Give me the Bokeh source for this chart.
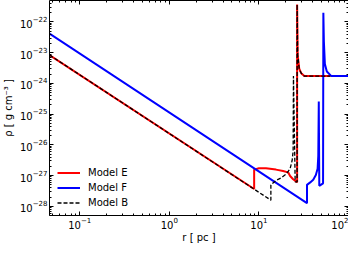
from bokeh.plotting import figure
from bokeh.models import (LogAxis, FixedTicker, LogTickFormatter, Legend, LegendItem,
                          CustomJSTickFormatter, Range1d)
from bokeh.embed import file_html
from bokeh.resources import INLINE

# ---------------- data ----------------
# Model E (red)
e_r = [0.046, 8.85, 8.85, 10.0, 12.0, 15.5, 18.6, 21.2, 22.3, 24.1, 26.4, 26.7, 26.7,
       27.1, 28.2, 29.7, 32.1, 62.8]
e_rho = [8.4e-24, 3.65e-28, 1.56e-27, 1.73e-27, 1.73e-27, 1.56e-27, 1.41e-27, 1.27e-27,
         9.7e-28, 7.6e-28, 6.2e-28, 6.2e-28, 3.7e-22,
         8.4e-24, 3.0e-24, 2.13e-24, 1.73e-24, 1.73e-24]

# Model F (blue)
f_r = [0.046, 34.4, 34.4, 37.4, 40.4, 43.2, 45.2, 46.0, 46.6, 47.2, 52.0, 52.4, 53.1,
       54.5, 57.3, 64.4, 100.0]
f_rho = [4.18e-23, 1.26e-28, 4.97e-28, 5.97e-28, 7.3e-28, 1.04e-27, 1.67e-27, 4.4e-27,
         2.58e-25, 4.63e-28, 5.57e-28, 1.99e-22, 2.36e-23,
         4.24e-24, 2.44e-24, 1.73e-24, 1.73e-24]

# Model B (black dashed)
b_r = [0.046, 13.6, 13.6, 15.5, 17.7, 20.1, 22.3, 23.5, 24.1, 24.3, 25.4, 26.7, 26.7,
       27.1, 28.2, 29.7, 32.1, 62.8]
b_rho = [8.4e-24, 1.58e-28, 4.95e-28, 6.9e-28, 8.4e-28, 1.11e-27, 1.67e-27, 3.1e-27,
         6.2e-27, 1.73e-24, 6.2e-28, 6.2e-28, 3.7e-22,
         8.4e-24, 3.0e-24, 2.13e-24, 1.73e-24, 1.73e-24]

x_ticks = [0.1, 1.0, 10.0, 100.0]
y_ticks = [1e-28, 1e-27, 1e-26, 1e-25, 1e-24, 1e-23, 1e-22]
x_range = (0.046, 100.0)
y_range = (5e-29, 5e-22)

labels = ["Model E", "Model F", "Model B"]


def minors(decades_from, decades_to):
    return [m * 10.0 ** k for k in range(decades_from, decades_to) for m in range(2, 10)]


x_minor = minors(-2, 2)
y_minor = minors(-29, -21)

FONT = "DejaVu Sans"

p = figure(width=348, height=245, x_axis_type="log", y_axis_type="log",
           x_range=Range1d(*x_range), y_range=Range1d(*y_range),
           output_backend="svg", toolbar_location=None,
           min_border_left=0, min_border_right=0, min_border_top=0, min_border_bottom=0)
p.outline_line_color = None
p.xgrid.visible = False
p.ygrid.visible = False
p.background_fill_color = "white"
p.border_fill_color = "white"


def style(ax, ticks, minor):
    ax.ticker = FixedTicker(ticks=ticks, minor_ticks=minor)
    ax.axis_line_color = "black"
    ax.axis_line_width = 1
    ax.major_tick_line_color = "black"
    ax.minor_tick_line_color = "black"
    ax.major_tick_in = 4
    ax.major_tick_out = 0
    ax.minor_tick_in = 2
    ax.minor_tick_out = 0
    ax.major_label_text_font = FONT
    ax.major_label_text_font_size = "10px"
    ax.major_label_text_color = "black"
    ax.axis_label_text_font = FONT
    ax.axis_label_text_font_size = "10px"
    ax.axis_label_text_font_style = "normal"
    ax.axis_label_text_color = "black"
    ax.major_label_standoff = 2
    ax.axis_label_standoff = 1


style(p.xaxis[0], x_ticks, x_minor)
style(p.yaxis[0], y_ticks, y_minor)
p.xaxis[0].formatter = LogTickFormatter()
p.yaxis[0].formatter = LogTickFormatter()
p.xaxis[0].axis_label = "r [ pc ]"
p.xaxis[0].major_label_standoff = 1
p.xaxis[0].axis_label_standoff = 0
p.yaxis[0].axis_label = "ρ [ g cm⁻³ ]"
p.yaxis[0].axis_label_standoff = 3

for loc, ticks, minor in (("above", x_ticks, x_minor), ("right", y_ticks, y_minor)):
    ax = LogAxis(formatter=CustomJSTickFormatter(code="return ''"))
    style(ax, ticks, minor)
    ax.major_label_text_font_size = "0px"
    ax.major_label_standoff = 0
    ax.axis_label_standoff = 0
    p.add_layout(ax, loc)

rE = p.line(e_r, e_rho, line_color="#ff0000", line_width=2)
rF = p.line(f_r, f_rho, line_color="#0000ff", line_width=2)
rB = p.line(b_r, b_rho, line_color="black", line_width=1.3, line_dash="4 2")

legend = Legend(items=[LegendItem(label=labels[0], renderers=[rE]),
                       LegendItem(label=labels[1], renderers=[rF]),
                       LegendItem(label=labels[2], renderers=[rB])],
                location=(8, 5))
legend.background_fill_alpha = 0
legend.border_line_alpha = 0
legend.padding = 0
legend.margin = 0
legend.spacing = 0
legend.glyph_width = 23
legend.glyph_height = 15
legend.label_height = 15
legend.label_standoff = 8
legend.label_text_font = FONT
legend.label_text_font_size = "10px"
legend.label_text_color = "black"
p.add_layout(legend)

open("out.html", "w").write(file_html(p, INLINE))
